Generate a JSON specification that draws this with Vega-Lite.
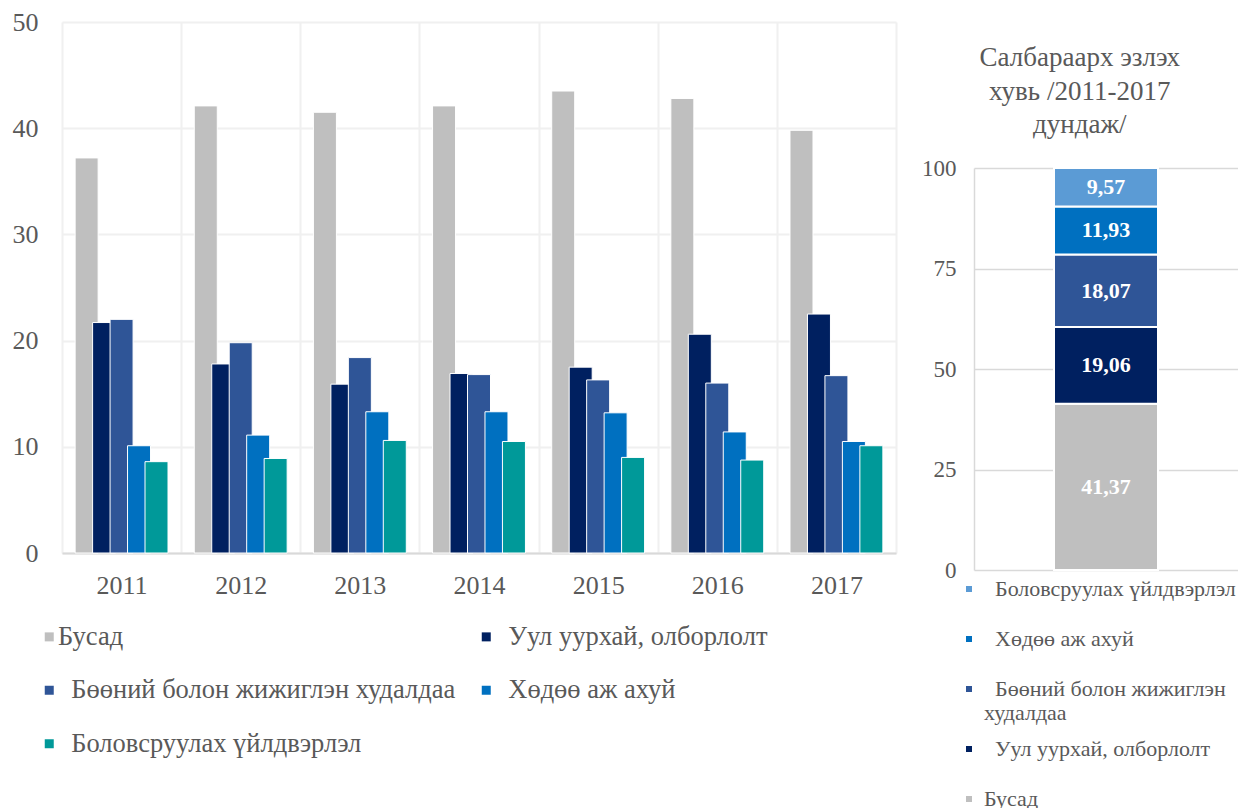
{
"$schema":"https://vega.github.io/schema/vega-lite/v6.json",
"background":"white",
"padding":{"left":12,"top":9,"right":0,"bottom":0},
"config":{"font":"Liberation Serif","view":{"stroke":null},"axis":{"labelFont":"Liberation Serif","labelColor":"#595959"},"legend":{"labelFont":"Liberation Serif","labelColor":"#595959","padding":0}},
"resolve":{"scale":{"color":"independent"},"legend":{"color":"independent"}},
"spacing":25,
"hconcat":[
{
"width":834,"height":531,
"data":{"values":[
{"year":"2011","sector":"Бусад","value":37.2},{"year":"2011","sector":"Уул уурхай, олборлолт","value":21.7},{"year":"2011","sector":"Бөөний болон жижиглэн худалдаа","value":22.0},{"year":"2011","sector":"Хөдөө аж ахуй","value":10.1},{"year":"2011","sector":"Боловсруулах үйлдвэрлэл","value":8.6},
{"year":"2012","sector":"Бусад","value":42.1},{"year":"2012","sector":"Уул уурхай, олборлолт","value":17.8},{"year":"2012","sector":"Бөөний болон жижиглэн худалдаа","value":19.8},{"year":"2012","sector":"Хөдөө аж ахуй","value":11.1},{"year":"2012","sector":"Боловсруулах үйлдвэрлэл","value":8.9},
{"year":"2013","sector":"Бусад","value":41.5},{"year":"2013","sector":"Уул уурхай, олборлолт","value":15.9},{"year":"2013","sector":"Бөөний болон жижиглэн худалдаа","value":18.4},{"year":"2013","sector":"Хөдөө аж ахуй","value":13.3},{"year":"2013","sector":"Боловсруулах үйлдвэрлэл","value":10.6},
{"year":"2014","sector":"Бусад","value":42.1},{"year":"2014","sector":"Уул уурхай, олборлолт","value":16.9},{"year":"2014","sector":"Бөөний болон жижиглэн худалдаа","value":16.8},{"year":"2014","sector":"Хөдөө аж ахуй","value":13.3},{"year":"2014","sector":"Боловсруулах үйлдвэрлэл","value":10.5},
{"year":"2015","sector":"Бусад","value":43.5},{"year":"2015","sector":"Уул уурхай, олборлолт","value":17.5},{"year":"2015","sector":"Бөөний болон жижиглэн худалдаа","value":16.3},{"year":"2015","sector":"Хөдөө аж ахуй","value":13.2},{"year":"2015","sector":"Боловсруулах үйлдвэрлэл","value":9.0},
{"year":"2016","sector":"Бусад","value":42.8},{"year":"2016","sector":"Уул уурхай, олборлолт","value":20.6},{"year":"2016","sector":"Бөөний болон жижиглэн худалдаа","value":16.0},{"year":"2016","sector":"Хөдөө аж ахуй","value":11.4},{"year":"2016","sector":"Боловсруулах үйлдвэрлэл","value":8.75},
{"year":"2017","sector":"Бусад","value":39.8},{"year":"2017","sector":"Уул уурхай, олборлолт","value":22.5},{"year":"2017","sector":"Бөөний болон жижиглэн худалдаа","value":16.7},{"year":"2017","sector":"Хөдөө аж ахуй","value":10.5},{"year":"2017","sector":"Боловсруулах үйлдвэрлэл","value":10.1}
]},
"mark":{"type":"bar","width":23,"stroke":"white","strokeWidth":1},
"encoding":{
"x":{"field":"year","type":"ordinal","scale":{"paddingInner":0,"paddingOuter":0},"axis":{"title":null,"labelAngle":0,"tickBand":"extent","grid":true,"gridColor":"#f0f0f0","gridWidth":2,"ticks":false,"labelFontSize":26,"labelPadding":19,"domainColor":"#d9d9d9","domainWidth":2}},
"xOffset":{"field":"sector","type":"nominal","scale":{"domain":["Бусад","Уул уурхай, олборлолт","Бөөний болон жижиглэн худалдаа","Хөдөө аж ахуй","Боловсруулах үйлдвэрлэл"],"paddingInner":0,"paddingOuter":0.91}},
"y":{"field":"value","type":"quantitative","scale":{"domain":[0,50]},"axis":{"title":null,"values":[0,10,20,30,40,50],"grid":true,"gridColor":"#f0f0f0","gridWidth":2,"domain":false,"ticks":false,"labelFontSize":26,"labelPadding":24}},
"color":{"field":"sector","type":"nominal","scale":{"domain":["Бусад","Уул уурхай, олборлолт","Бөөний болон жижиглэн худалдаа","Хөдөө аж ахуй","Боловсруулах үйлдвэрлэл"],"range":["#bfbfbf","#002060","#2f5597","#0070c0","#009999"]},
"legend":{"title":null,"orient":"none","legendX":-26,"legendY":601.5,"columns":2,"direction":"horizontal","symbolType":"square","symbolSize":81,"symbolStrokeWidth":0,"labelFontSize":26.5,"labelOffset":-4.5,"rowPadding":26.5,"columnPadding":17,"labelLimit":600,
"labelExpr":"datum.label == 'Бусад' ? datum.label : '\u200b\u00a0\u00a0' + datum.label"}}
}
},
{
"width":264,"height":548,
"title":{"text":" ","fontSize":12,"subtitle":["Салбараарх эзлэх","хувь /2011-2017","дундаж/"],"subtitleFontSize":27,"subtitleFont":"Liberation Serif","subtitleColor":"#595959","subtitleLineHeight":33.5,"subtitlePadding":11,"offset":-117,"anchor":"middle","frame":"bounds"},
"data":{"values":[
{"s":"Бусад","v":41.37,"t":"41,37","k":1},
{"s":"Уул уурхай, олборлолт","v":19.06,"t":"19,06","k":2},
{"s":"Бөөний болон жижиглэн худалдаа","v":18.07,"t":"18,07","k":3},
{"s":"Хөдөө аж ахуй","v":11.93,"t":"11,93","k":4},
{"s":"Боловсруулах үйлдвэрлэл","v":9.57,"t":"9,57","k":5}
]},
"encoding":{
"y":{"field":"v","type":"quantitative","stack":"zero","scale":{"domain":[0,100],"range":[548,146],"nice":false},"axis":{"title":null,"values":[0,25,50,75,100],"grid":true,"gridColor":"#d9d9d9","gridWidth":1.5,"domainColor":"#d9d9d9","domainWidth":1.5,"ticks":false,"labelFontSize":23,"labelPadding":18}},
"order":{"field":"k","type":"quantitative"}
},
"layer":[
{"mark":{"type":"bar","width":104,"stroke":"white","strokeWidth":2},
"encoding":{"color":{"field":"s","type":"nominal","scale":{"domain":["Боловсруулах үйлдвэрлэл","Хөдөө аж ахуй","Бөөний болон жижиглэн худалдаа","Уул уурхай, олборлолт","Бусад"],"range":["#5b9bd5","#0070c0","#2f5597","#002060","#bfbfbf"]},
"legend":{"title":null,"orient":"none","legendX":-16,"legendY":556,"direction":"vertical","symbolType":"M-1,-24.5M-3,-3h6v6h-6zM1,24.5","symbolSize":4,"symbolStrokeWidth":0,"labelFontSize":22,"labelOffset":4,"rowPadding":0,"labelLimit":400,
"labelExpr":"datum.label == 'Бусад' ? datum.label : datum.label == 'Бөөний болон жижиглэн худалдаа' ? ['\u200b\u00a0\u00a0Бөөний болон жижиглэн', 'худалдаа'] : '\u200b\u00a0\u00a0' + datum.label"}}}},
{"mark":{"type":"text","color":"white","fontWeight":"bold","fontSize":22,"font":"Liberation Serif"},
"encoding":{"y":{"field":"v","type":"quantitative","stack":"zero","bandPosition":0.5},"detail":{"field":"s"},"text":{"field":"t"}}}
]
}
]
}
